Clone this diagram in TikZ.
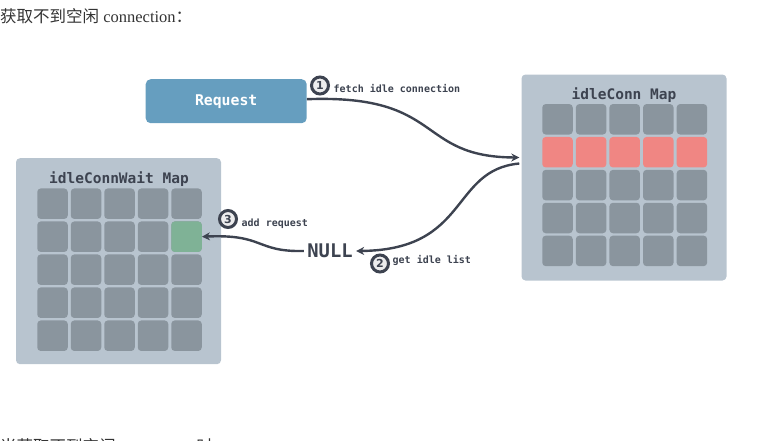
\documentclass[tikz,border=0pt]{standalone}
\usepackage{fontspec}
\setmainfont{Liberation Serif}
\setsansfont{DejaVu Sans}
\setmonofont{DejaVu Sans Mono}
\newfontfamily\cjk{Noto Sans CJK SC}
\usetikzlibrary{positioning,arrows.meta}

\definecolor{mapbg}{HTML}{B8C4CF}
\definecolor{cellgray}{HTML}{8A959E}
\definecolor{cellred}{HTML}{F08683}
\definecolor{cellgreen}{HTML}{7FB296}
\definecolor{reqblue}{HTML}{669EBF}
\definecolor{ink}{HTML}{3D4350}

\begin{document}
\begin{tikzpicture}[
  x=1pt, y=-1pt,
  >={Stealth[length=8pt,width=8pt]},
  mapbox/.style={rectangle, rounded corners=4pt, fill=mapbg, minimum width=205pt, minimum height=206pt, inner sep=0pt},
  maptitle/.style={font=\ttfamily\bfseries\fontsize{14.5}{16}\selectfont, text=ink},
  cell/.style={rectangle, rounded corners=3.5pt, fill=cellgray, minimum size=30.5pt, inner sep=0pt},
  reqbox/.style={rectangle, rounded corners=5pt, fill=reqblue, minimum width=161pt, minimum height=44pt, text=white, font=\ttfamily\bfseries\fontsize{14.8}{16}\selectfont},
  stepmark/.style={circle, draw=ink, line width=3pt, fill=white!90!ink, minimum size=17pt, inner sep=0pt, text=ink, font=\sffamily\bfseries\fontsize{11}{11}\selectfont},
  steplbl/.style={font=\ttfamily\bfseries\fontsize{10}{11}\selectfont, text=ink, inner sep=0pt},
  flow/.style={->, draw=ink, line width=2.4pt},
  note/.style={font=\fontsize{16.5}{18}\selectfont, anchor=west, inner sep=0pt, text=black!80}
]

\useasboundingbox (0,0) rectangle (782,440);

% caption
\node[note] (cap) at (0,16.5) {{\cjk 获取不到空闲} connection{\cjk ：}};

% idleConn map
\node[mapbox] (idleconn) at (624,177.5) {};
\node[maptitle] (conntitle) at (624,95) {idleConn Map};
\foreach \i in {0,...,4} {
  \foreach \j in {0,2,3,4}
    \node[cell] (conn-\i-\j) at (557.5+33.6*\i, 119.3+32.9*\j) {};
  \node[cell, fill=cellred] (conn-\i-1) at (557.5+33.6*\i, 152.2) {};
}

% idleConnWait map
\node[mapbox] (waitmap) at (118.5,261.2) {};
\node[maptitle] (waittitle) at (119,179.3) {idleConnWait Map};
\foreach \i in {0,...,4}
  \foreach \j in {0,...,4}
    \node[cell] (wait-\i-\j) at (52.5+33.5*\i, 203.7+33*\j) {};
\node[cell, fill=cellgreen] (wait-4-1) at (186.5,236.7) {};

% request and result
\node[reqbox] (req) at (226.2,101.2) {\raisebox{-2pt}{Request}};
\node[font=\ttfamily\bfseries\fontsize{18.8}{20}\selectfont, text=ink] (null) at (330,251) {NULL};

% flow
\draw[flow] ([yshift=2pt]req.east) .. controls (445,94) and (415,157) .. ([xshift=-2pt,yshift=20pt]idleconn.west);
\draw[flow] ([xshift=-2pt,yshift=14pt]idleconn.west) .. controls (450,170) and (470,250) .. (null.east);
\draw[flow] (null.west) .. controls (255,252) and (265,234) .. (wait-4-1.east);

% steps
\node[stepmark] (s1) at (320,85.5) {1};
\node[steplbl, right=3.5pt of s1, yshift=-3.5pt] (l1) {fetch idle connection};
\node[stepmark] (s2) at (380,263.5) {2};
\node[steplbl, right=2.5pt of s2, yshift=3pt] (l2) {get idle list};
\node[stepmark] (s3) at (228,219) {3};
\node[steplbl, right=3.5pt of s3, yshift=-5pt] (l3) {add request};

% next line, cut off
\begin{scope}
  \clip (0,0) rectangle (782,440);
  \node[note] (tail) at (0,446) {{\cjk 当获取不到空闲} connection {\cjk 时}};
\end{scope}

\end{tikzpicture}
\end{document}
